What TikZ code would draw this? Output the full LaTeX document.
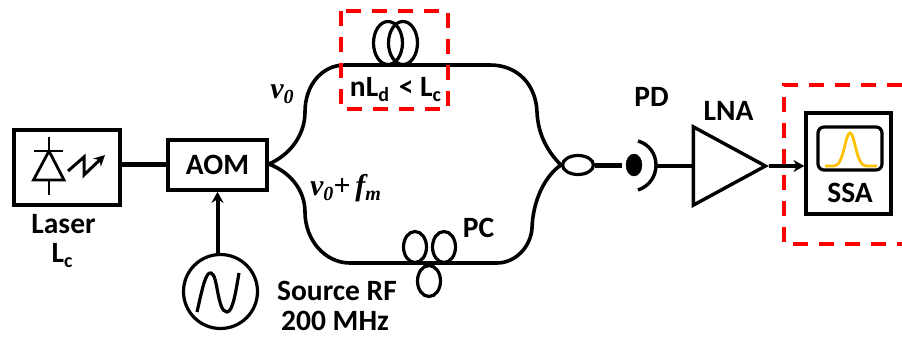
\documentclass[tikz,border=0pt]{standalone}
\usepackage{fontspec}
\usepackage{xcolor}
\usepackage{tikz}
\usetikzlibrary{arrows.meta,positioning,shapes.geometric}
\setmainfont{Carlito}
\newfontfamily\freqfont{Liberation Serif}
\definecolor{ink}{HTML}{000000}
\definecolor{marker}{HTML}{FF0000}
\definecolor{peak}{HTML}{FFC000}
\newcommand{\lowtxt}[1]{\raisebox{-5pt}{\fontsize{20}{20}\selectfont #1}}
\tikzset{
    every picture/.style={line cap=butt,line join=miter},
    blockbox/.style={draw=ink,line width=3.6pt,inner sep=0pt,font=\fontsize{29.5}{30}\bfseries\selectfont},
    lbl/.style={anchor=base,inner sep=0pt,text=ink,font=\fontsize{29.5}{30}\bfseries\selectfont},
    freqlbl/.style={anchor=base,inner sep=0pt,text=ink,font=\fontsize{30}{30}\freqfont\bfseries\itshape\selectfont},
    loopnode/.style={draw=ink,ellipse,line width=3.2pt,inner sep=0pt},
    fiber/.style={draw=ink,line width=3.6pt},
    wire/.style={draw=ink,line width=5pt},
    flowarrow/.style={-{Stealth[length=11pt,width=12pt]},draw=ink,line width=4pt},
    redbox/.style={draw=marker,line width=3.8pt,dash pattern=on 15pt off 11pt}
}
\begin{document}
\begin{tikzpicture}[x=1pt,y=-1pt]
  \useasboundingbox (0,0) rectangle (902,337);
  % source side
  \node[blockbox,minimum width=106pt,minimum height=75pt] (laser) at (67,167.5) {};
  \node[blockbox,minimum width=99pt,minimum height=50pt] (aom) at (217.5,165) {AOM};
  \node[draw=ink,circle,line width=3.2pt,minimum size=74pt,inner sep=0pt] (rf) at (220.5,291.5) {};
  \draw[wire] (laser.east |- 0,164) -- (aom.west |- 0,164);
  \draw[flowarrow] (aom.south |- rf.north) -- (aom.south);
  \draw[line width=3.2pt] (197,312) .. controls (203,285) and (206,272) .. (211,273) .. controls (218,274) and (217,312) .. (227,312) .. controls (233,312) and (236,290) .. (239,273);
  % laser diode
  \draw[line width=2.8pt] (49,137) -- (49,151) (34,151) -- (63,151) (49,180) -- (49,195);
  \draw[line width=2.8pt] (49,151) -- (33.5,180) -- (64,180) -- cycle;
  \draw[line width=3pt,-{Stealth[length=11pt,width=11pt]}] (68,171) -- (84,157) -- (84,175) -- (105,155);
  % the two arms
  \node[loopnode,minimum width=31pt,minimum height=19pt] (coupler) at (578,165) {};
  \node[loopnode,minimum width=29pt,minimum height=43pt] (delayA) at (388,43) {};
  \node[loopnode,minimum width=29pt,minimum height=43pt] (delayB) at (403,43) {};
  \node[loopnode,minimum width=23pt,minimum height=31pt] (pcA) at (415,247) {};
  \node[loopnode,minimum width=23pt,minimum height=31pt] (pcB) at (444,247) {};
  \node[loopnode,minimum width=23pt,minimum height=31pt] (pcC) at (429,281) {};
  \draw[fiber] (aom.east |- 0,164) .. controls (290,155) and (305,135) .. (305,112) .. controls (305,85) and (322,65) .. (345,65) -- (490,65) .. controls (518,65) and (536,85) .. (537,112) .. controls (538,135) and (548,152) .. (coupler.west);
  \draw[fiber] (aom.east |- 0,164) .. controls (290,172) and (305,190) .. (305,212) .. controls (305,240) and (325,263) .. (350,263) -- (497,263) .. controls (516,263) and (531,246) .. (532,228) .. controls (533,200) and (545,176) .. (coupler.west);
  % detection
  \node[draw=ink,fill=ink,ellipse,minimum width=16pt,minimum height=22pt,inner sep=0pt] (pd) at (634,165) {};
  \draw[wire] (coupler.east) -- (pd.west -| 622,165);
  \draw[line width=3.4pt] (638,141) .. controls (662,148) and (662,182) .. (638,190);
  \node[draw=ink,isosceles triangle,isosceles triangle apex angle=57,line width=3.4pt,minimum height=72pt,inner sep=0pt,anchor=apex] (lna) at (769,166) {};
  \coordinate (pdback) at (657,166);
  \draw[line width=3.2pt] (pdback) -- (lna.west |- pdback);
  \node[blockbox,minimum width=85pt,minimum height=101pt,line width=3.2pt] (ssa) at (848.5,163.5) {};
  \draw[flowarrow,line width=3.4pt] (lna.apex) -- (ssa.west |- lna.apex);
  \node[draw=ink,line width=3.2pt,rounded corners=6pt,minimum width=64pt,minimum height=43pt,inner sep=0pt] (screen) at (850,148.5) {};
  \draw[peak,line width=2.8pt] (825,166) -- (834,166) .. controls (844,166) and (845,133) .. (850,133) .. controls (855,133) and (856,166) .. (866,166) -- (877,166);
  % dashed marks
  \draw[redbox] (341,11) rectangle (448,109);
  \draw[redbox] (902,85) -- (784,85) -- (784,244) -- (902,244);
  % labels
  \node[lbl] at (63.5,233) {Laser};
  \node[lbl] at (62,262) {L\lowtxt{c}};
  \node[lbl] at (337,300) {Source RF};
  \node[lbl] at (335,330) {200 MHz};
  \node[lbl] at (478.5,237) {PC};
  \node[lbl] at (651.5,106) {PD};
  \node[lbl] at (728.5,120) {LNA};
  \node[lbl] at (850,202) {SSA};
  \node[lbl] at (395.5,96) {nL\lowtxt{d}\,\,< L\lowtxt{c}};
  \node[freqlbl] at (282,99) {ν\lowtxt{0}};
  \node[freqlbl] at (345.5,195) {ν\lowtxt{0}+\,f\lowtxt{m}};
\end{tikzpicture}
\end{document}
